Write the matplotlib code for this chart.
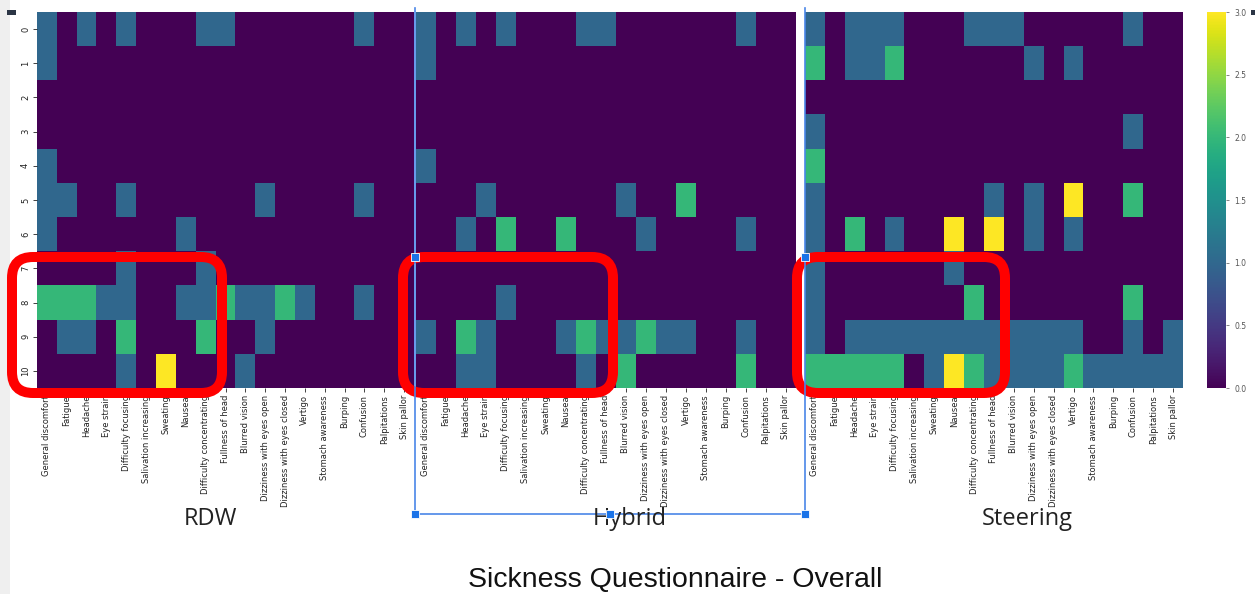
import numpy as np
import matplotlib.pyplot as plt
from matplotlib.patches import FancyBboxPatch, Rectangle
from matplotlib.lines import Line2D

# --- Data ---
symptoms = ["General discomfort", "Fatigue", "Headache", "Eye strain",
            "Difficulty focusing", "Salivation increasing", "Sweating",
            "Nausea", "Difficulty concentrating", "Fullness of head",
            "Blurred vision", "Dizziness with eyes open",
            "Dizziness with eyes closed", "Vertigo", "Stomach awareness",
            "Burping", "Confusion", "Palpitations", "Skin pallor"]
participants = [str(i) for i in range(11)]
conditions = ["RDW", "Hybrid", "Steering"]

rdw = [
    [1, 0, 1, 0, 1, 0, 0, 0, 1, 1, 0, 0, 0, 0, 0, 0, 1, 0, 0],
    [1, 0, 0, 0, 0, 0, 0, 0, 0, 0, 0, 0, 0, 0, 0, 0, 0, 0, 0],
    [0, 0, 0, 0, 0, 0, 0, 0, 0, 0, 0, 0, 0, 0, 0, 0, 0, 0, 0],
    [0, 0, 0, 0, 0, 0, 0, 0, 0, 0, 0, 0, 0, 0, 0, 0, 0, 0, 0],
    [1, 0, 0, 0, 0, 0, 0, 0, 0, 0, 0, 0, 0, 0, 0, 0, 0, 0, 0],
    [1, 1, 0, 0, 1, 0, 0, 0, 0, 0, 0, 1, 0, 0, 0, 0, 1, 0, 0],
    [1, 0, 0, 0, 0, 0, 0, 1, 0, 0, 0, 0, 0, 0, 0, 0, 0, 0, 0],
    [0, 0, 0, 0, 1, 0, 0, 0, 1, 0, 0, 0, 0, 0, 0, 0, 0, 0, 0],
    [2, 2, 2, 1, 1, 0, 0, 1, 1, 2, 1, 1, 2, 1, 0, 0, 1, 0, 0],
    [0, 1, 1, 0, 2, 0, 0, 0, 2, 0, 0, 1, 0, 0, 0, 0, 0, 0, 0],
    [0, 0, 0, 0, 1, 0, 3, 0, 0, 0, 1, 0, 0, 0, 0, 0, 0, 0, 0],
]

hybrid = [
    [1, 0, 1, 0, 1, 0, 0, 0, 1, 1, 0, 0, 0, 0, 0, 0, 1, 0, 0],
    [1, 0, 0, 0, 0, 0, 0, 0, 0, 0, 0, 0, 0, 0, 0, 0, 0, 0, 0],
    [0, 0, 0, 0, 0, 0, 0, 0, 0, 0, 0, 0, 0, 0, 0, 0, 0, 0, 0],
    [0, 0, 0, 0, 0, 0, 0, 0, 0, 0, 0, 0, 0, 0, 0, 0, 0, 0, 0],
    [1, 0, 0, 0, 0, 0, 0, 0, 0, 0, 0, 0, 0, 0, 0, 0, 0, 0, 0],
    [0, 0, 0, 1, 0, 0, 0, 0, 0, 0, 1, 0, 0, 2, 0, 0, 0, 0, 0],
    [0, 0, 1, 0, 2, 0, 0, 2, 0, 0, 0, 1, 0, 0, 0, 0, 1, 0, 0],
    [0, 0, 0, 0, 0, 0, 0, 0, 0, 0, 0, 0, 0, 0, 0, 0, 0, 0, 0],
    [0, 0, 0, 0, 1, 0, 0, 0, 0, 0, 0, 0, 0, 0, 0, 0, 0, 0, 0],
    [1, 0, 2, 1, 0, 0, 0, 1, 2, 1, 1, 2, 1, 1, 0, 0, 1, 0, 0],
    [0, 0, 1, 1, 0, 0, 0, 0, 1, 0, 2, 0, 0, 0, 0, 0, 2, 0, 0],
]

steering = [
    [1, 0, 1, 1, 1, 0, 0, 0, 1, 1, 1, 0, 0, 0, 0, 0, 1, 0, 0],
    [2, 0, 1, 1, 2, 0, 0, 0, 0, 0, 0, 1, 0, 1, 0, 0, 0, 0, 0],
    [0, 0, 0, 0, 0, 0, 0, 0, 0, 0, 0, 0, 0, 0, 0, 0, 0, 0, 0],
    [1, 0, 0, 0, 0, 0, 0, 0, 0, 0, 0, 0, 0, 0, 0, 0, 1, 0, 0],
    [2, 0, 0, 0, 0, 0, 0, 0, 0, 0, 0, 0, 0, 0, 0, 0, 0, 0, 0],
    [1, 0, 0, 0, 0, 0, 0, 0, 0, 1, 0, 1, 0, 3, 0, 0, 2, 0, 0],
    [1, 0, 2, 0, 1, 0, 0, 3, 0, 3, 0, 1, 0, 1, 0, 0, 0, 0, 0],
    [1, 0, 0, 0, 0, 0, 0, 1, 0, 0, 0, 0, 0, 0, 0, 0, 0, 0, 0],
    [1, 0, 0, 0, 0, 0, 0, 0, 2, 0, 0, 0, 0, 0, 0, 0, 2, 0, 0],
    [1, 0, 1, 1, 1, 1, 1, 1, 1, 1, 1, 1, 1, 1, 0, 0, 1, 0, 1],
    [2, 2, 2, 2, 2, 0, 1, 3, 2, 1, 1, 1, 1, 2, 1, 1, 1, 1, 1],
]

cbar_ticks = [0.0, 0.5, 1.0, 1.5, 2.0, 2.5, 3.0]

# --- Layout (pixels, origin top-left) ---
W, H = 1257, 594
fig = plt.figure(figsize=(W / 100, H / 100), dpi=100)


def px_axes(left, top, right, bottom):
    return fig.add_axes([left / W, 1 - bottom / H,
                         (right - left) / W, (bottom - top) / H])


def inch(x, y):
    return x / 100, (H - y) / 100


# left screenshot strip
fig.add_artist(Rectangle(inch(0, H), 0.10, H / 100, transform=fig.dpi_scale_trans,
                         facecolor="#efefef", edgecolor="none", zorder=0))

panels = [(rdw, 37, 414), (hybrid, 416, 796), (steering, 805, 1183)]
for i, (data, x0, x1) in enumerate(panels):
    ax = px_axes(x0, 12, x1, 388)
    im = ax.imshow(np.array(data), cmap="viridis", vmin=0, vmax=3,
                   aspect="auto", interpolation="nearest")
    ax.set_xticks(range(len(symptoms)))
    ax.set_xticklabels(symptoms, rotation=90, fontsize=6)
    if i == 0:
        ax.set_yticks(range(len(participants)))
        ax.set_yticklabels(participants, rotation=90, va="center", fontsize=6)
    else:
        ax.set_yticks([])
    for s in ax.spines.values():
        s.set_visible(False)
    ax.tick_params(length=3, width=0.6, pad=2, colors="#222222")

# --- Colorbar ---
cax = px_axes(1207, 12, 1226, 388)
cb = fig.colorbar(im, cax=cax)
cb.outline.set_visible(False)
cb.set_ticks(cbar_ticks)
cb.set_ticklabels([f"{t:.1f}" for t in cbar_ticks])
cb.ax.tick_params(labelsize=5.5, length=2.5, width=0.5, colors="#555555")

# small dark marks from the screenshot
for x, y, w, h in [(7, 10, 9, 5), (1251, 10, 4, 5)]:
    fig.add_artist(Rectangle(inch(x, y + h), w / 100, h / 100,
                             transform=fig.dpi_scale_trans,
                             facecolor="#2b3545", edgecolor="none", zorder=12))

# --- Red highlight boxes ---
for x0, x1 in [(12, 222), (403, 613), (797, 1005)]:
    box = FancyBboxPatch(inch(x0, 393), (x1 - x0) / 100, (393 - 257) / 100,
                         boxstyle="round,pad=0,rounding_size=0.21",
                         transform=fig.dpi_scale_trans, fill=False,
                         edgecolor="#ff0000", linewidth=7.2, zorder=10)
    fig.add_artist(box)

# --- Selection frame around Hybrid ---
blue = "#4a86e8"
frame = [([415, 415], [8, 514]), ([805, 805], [8, 514]), ([415, 805], [514, 514])]
for xs, ys in frame:
    fig.add_artist(Line2D([x / 100 for x in xs], [(H - y) / 100 for y in ys],
                          transform=fig.dpi_scale_trans, color=blue,
                          lw=1.2, zorder=11))
for hx, hy in [(415, 257), (805, 257), (415, 514), (610, 514), (805, 514)]:
    fig.add_artist(Rectangle(inch(hx - 4, hy + 4), 0.08, 0.08,
                             transform=fig.dpi_scale_trans, facecolor="#1a73e8",
                             edgecolor="white", lw=0.6, zorder=13))

# --- Labels ---
for name, cx in zip(conditions, [210, 630, 1027]):
    fig.text(cx / W, 1 - 519 / H, name, ha="center", va="center",
             fontsize=17, family="Open Sans", color="#222222", zorder=12)

fig.text(675 / W, 1 - 580 / H, "Sickness Questionnaire - Overall",
         ha="center", va="center", fontsize=20.5, family="Liberation Sans",
         color="#111111")

fig.savefig("out.png", dpi=100)
